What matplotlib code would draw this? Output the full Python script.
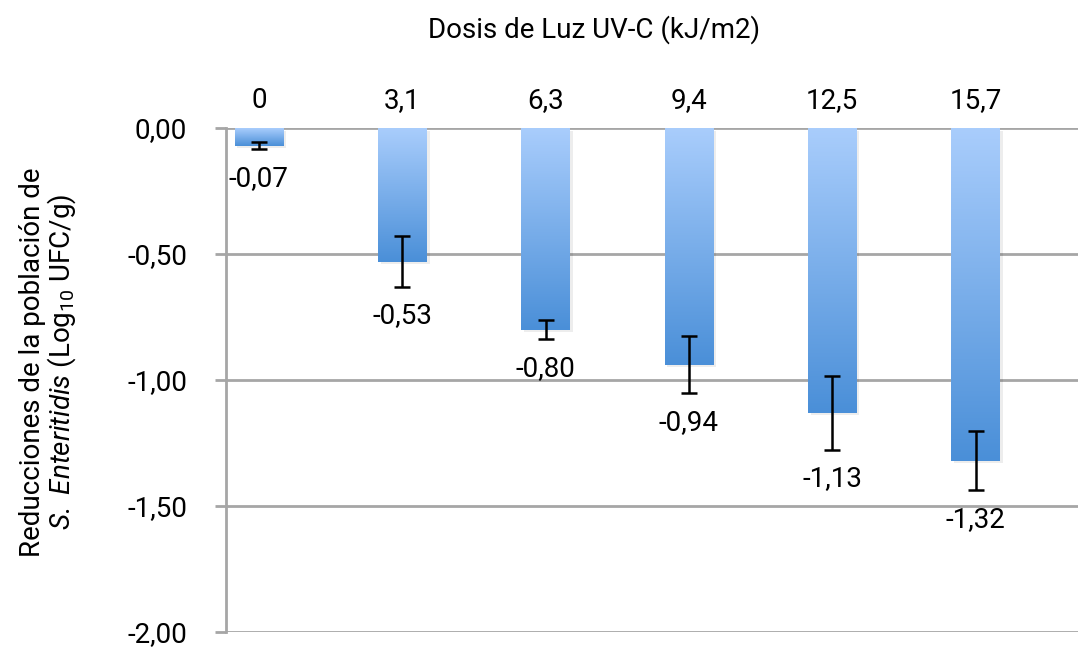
import matplotlib.pyplot as plt
import numpy as np
from matplotlib.colors import LinearSegmentedColormap

dosis = ["0", "3,1", "6,3", "9,4", "12,5", "15,7"]
reduccion = [-0.07, -0.53, -0.80, -0.94, -1.13, -1.32]
error = [0.013, 0.10, 0.037, 0.113, 0.147, 0.116]

fam = "Roboto"
plt.rcParams['font.family'] = [fam, 'DejaVu Sans']
plt.rcParams['mathtext.fontset'] = 'custom'
plt.rcParams['mathtext.rm'] = fam
plt.rcParams['mathtext.it'] = fam + ':italic'

fig = plt.figure(figsize=(10.78, 6.5), dpi=100)
ax = fig.add_axes([226 / 1078, 1 - 632 / 650, (1078 - 226) / 1078, (632 - 128) / 650])

x = np.arange(len(dosis))
grid_c = '#a6a6a6'
for yv in [0, -0.5, -1, -1.5, -2]:
    ax.axhline(yv, color=grid_c, lw=2, zorder=1)

cmap = LinearSegmentedColormap.from_list('azul', ['#4a8fd8', '#a9cdfc'])
grad = np.linspace(0, 1, 256).reshape(-1, 1)
w = 0.34
# sombra suave
ax.bar(x + 0.02, reduccion, width=w, bottom=-0.01, color='#000000', alpha=0.07, zorder=2)
bars = ax.bar(x, reduccion, width=w, color='none', zorder=3)
for b in bars:
    x0 = b.get_x()
    im = ax.imshow(grad, cmap=cmap, aspect='auto', origin='lower',
                   extent=[x0, x0 + b.get_width(), b.get_y() + b.get_height(), b.get_y()],
                   zorder=3)
    im.set_clip_path(b)

ax.errorbar(x, reduccion, yerr=error, fmt='none', ecolor='black', elinewidth=1.8,
            capsize=5.5, capthick=1.8, zorder=4)

for xi, v, e in zip(x, reduccion, error):
    ax.annotate(f"{v:.2f}".replace('.', ','), (xi, v - e), xytext=(0, -21),
                textcoords='offset points', ha='center', va='center', fontsize=20)

ax.set_xlim(-0.23, 5.715)
ax.set_ylim(-2.0, 0.0)
ax.set_xticks(x)
ax.set_xticklabels(dosis, fontsize=20)
ax.xaxis.tick_top()
ax.tick_params(axis='x', length=0, pad=10)
ax.set_yticks([0, -0.5, -1, -1.5, -2])
ax.set_yticklabels(["0,00", "-0,50", "-1,00", "-1,50", "-2,00"], fontsize=20)
ax.tick_params(axis='y', length=8, width=2, color=grid_c, pad=20)
for s in ['top', 'right', 'bottom']:
    ax.spines[s].set_visible(False)
ax.spines['left'].set_color(grid_c)
ax.spines['left'].set_linewidth(2)

fig.text(594 / 1078, 1 - 30 / 650, "Dosis de Luz UV-C (kJ/m2)", ha='center', va='center', fontsize=20)
fig.text(33 / 1078, 1 - 362 / 650, "Reducciones de la población de", rotation=90,
         ha='center', va='center', fontsize=20)
fig.text(62 / 1078, 1 - 362 / 650, r"$\mathit{S.\ Enteritidis}$ (Log$_{\mathrm{10}}$ UFC/g)", rotation=90,
         ha='center', va='center', fontsize=20)

fig.savefig('out.png', dpi=100)
